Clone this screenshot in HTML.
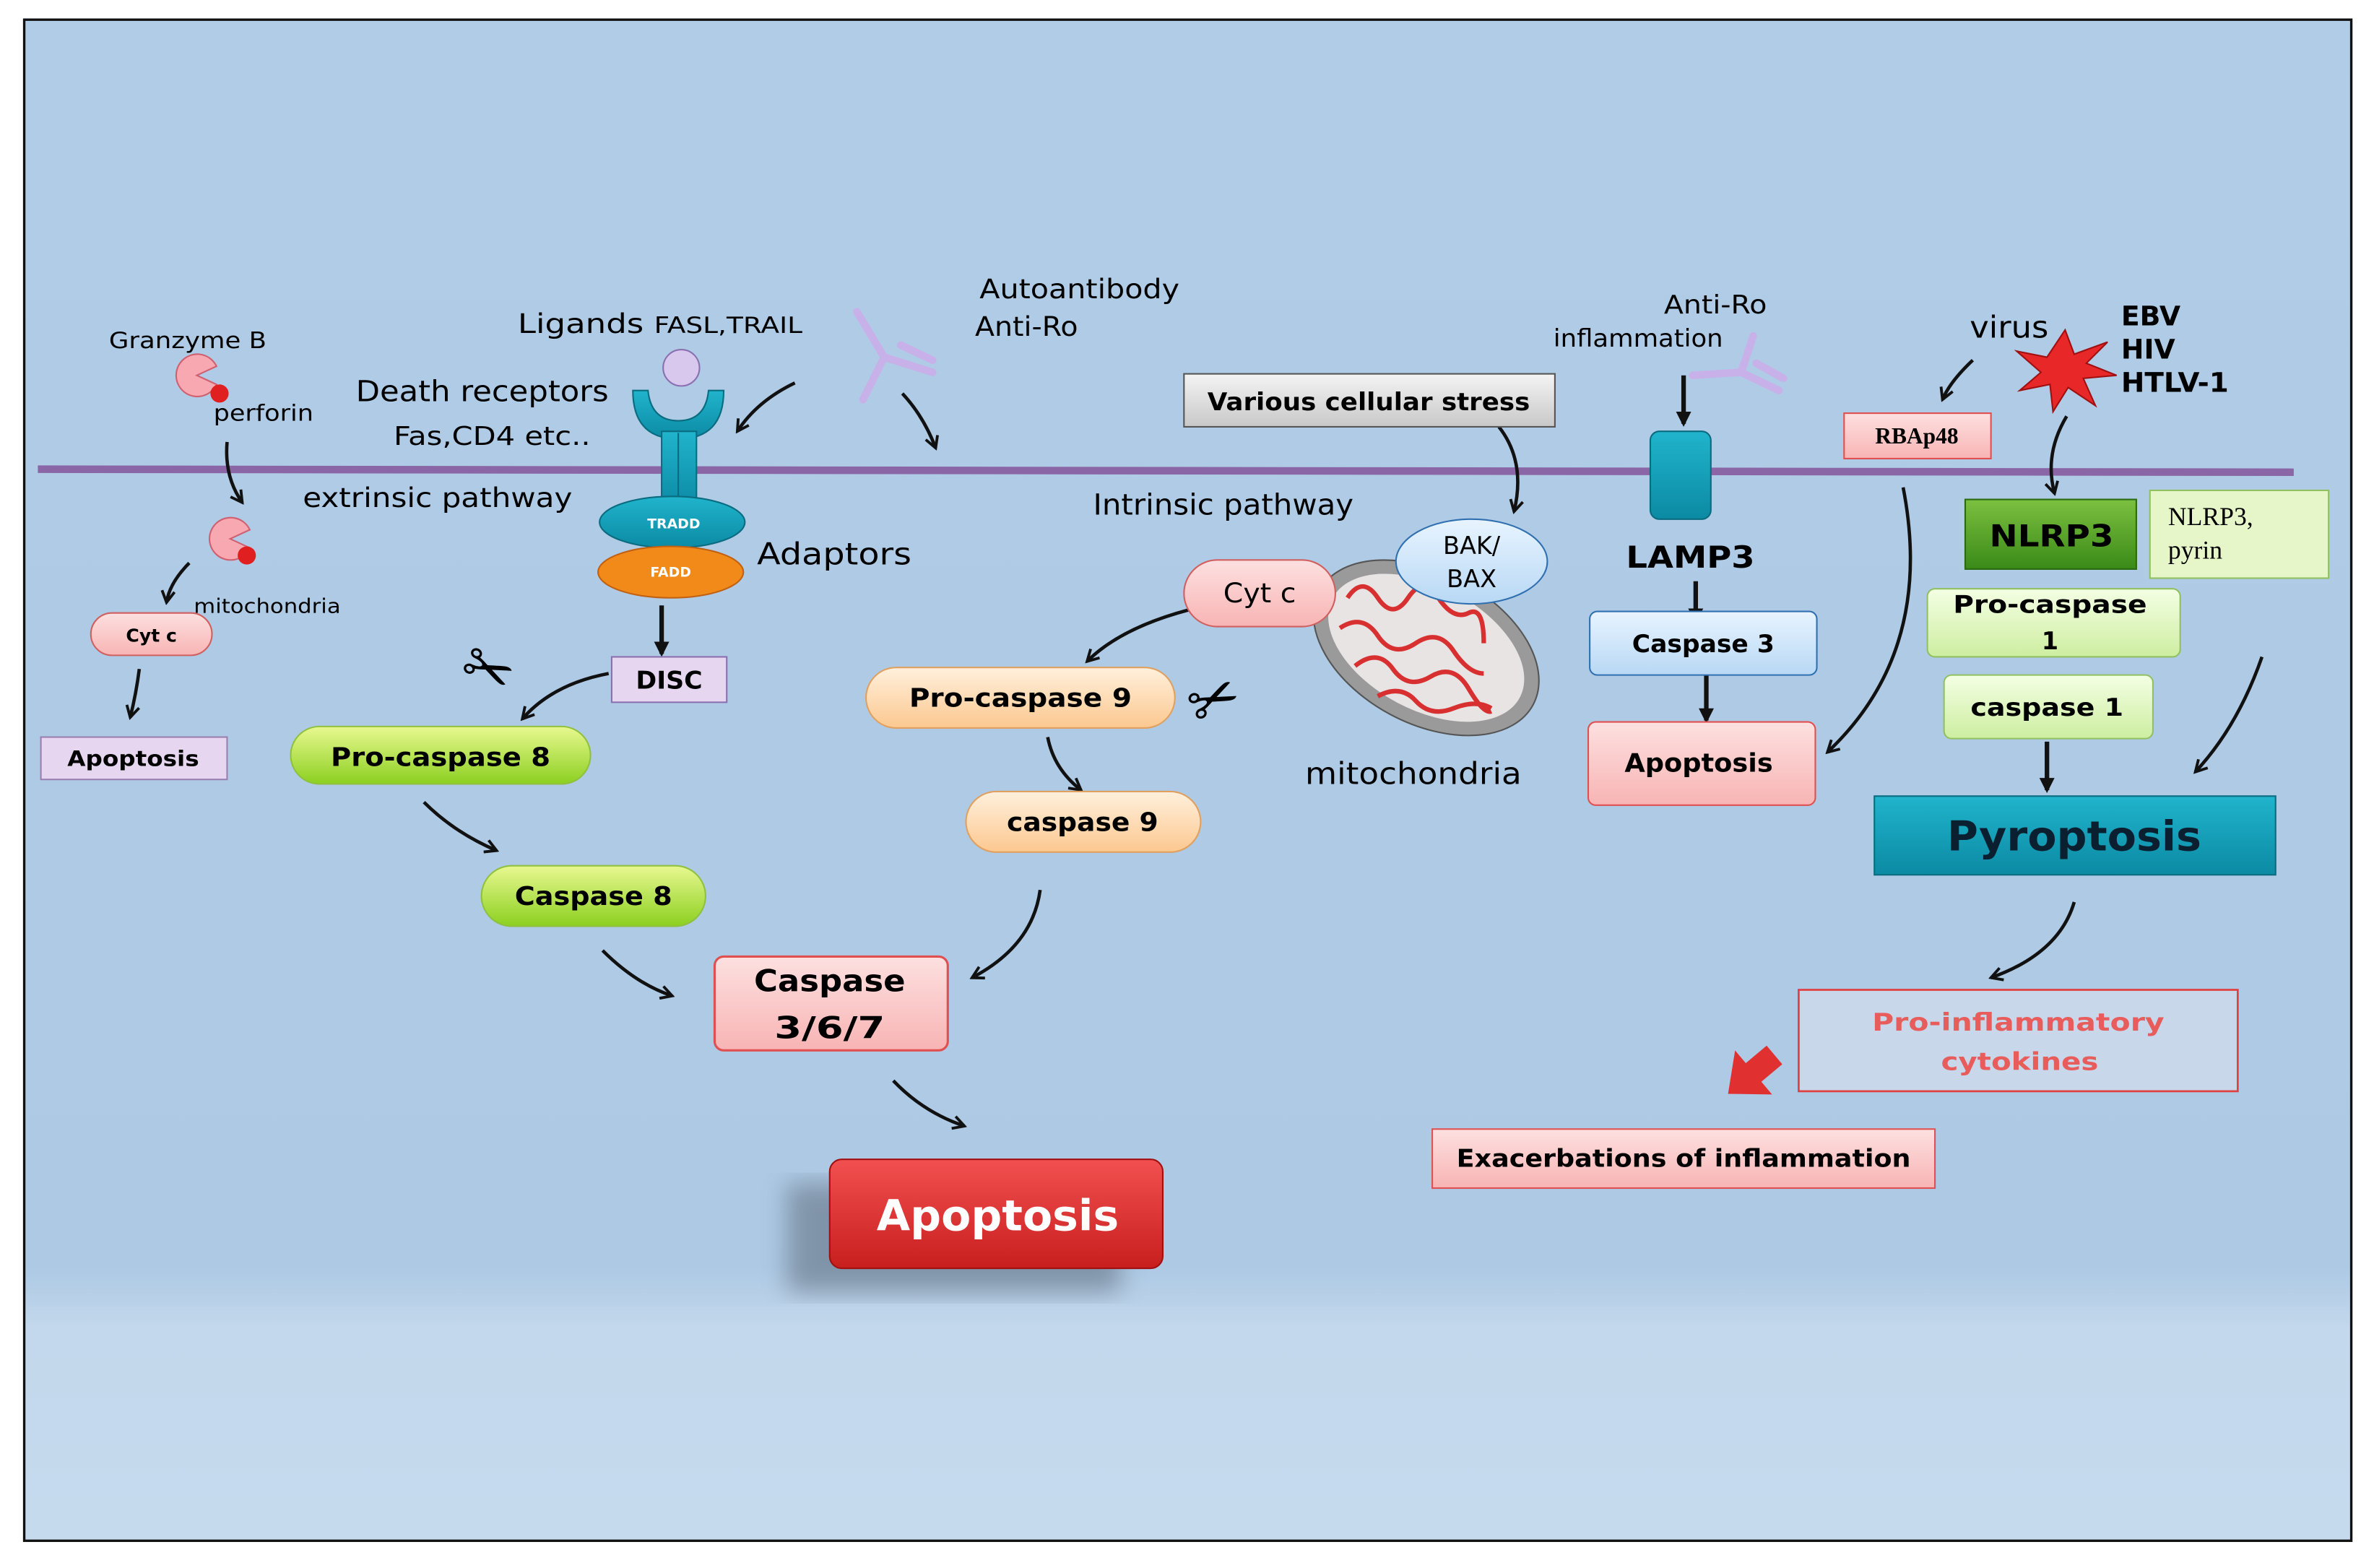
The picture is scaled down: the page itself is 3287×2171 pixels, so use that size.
<!DOCTYPE html>
<html><head><meta charset="utf-8"><style>
html,body{margin:0;padding:0;background:#fff;}
svg{display:block;}
text{font-family:"DejaVu Sans","Liberation Sans",sans-serif;}
.b{font-weight:bold;}
.s{font-family:"Liberation Serif",serif;}
</style></head><body>
<svg width="3287" height="2171" viewBox="0 0 1568 1036" preserveAspectRatio="none" xmlns="http://www.w3.org/2000/svg">
<defs>
<marker id="ah" viewBox="0 0 12 12" refX="10" refY="6" markerWidth="10" markerHeight="10" orient="auto" markerUnits="userSpaceOnUse">
<path d="M1,1 L10,6 L1,11" fill="none" stroke="#111" stroke-width="2.2"/></marker>
<marker id="ahf" viewBox="0 0 10 10" refX="8" refY="5" markerWidth="10" markerHeight="10" orient="auto" markerUnits="userSpaceOnUse">
<path d="M0,0 L10,5 L0,10 z" fill="#111"/></marker>
<linearGradient id="bg" x1="0" y1="0" x2="0" y2="1"><stop offset="0" stop-color="#b1cce6"/><stop offset="0.82" stop-color="#adc9e4"/><stop offset="0.86" stop-color="#c3d8ec"/><stop offset="1" stop-color="#c6daee"/></linearGradient>
<linearGradient id="gr" x1="0" y1="0" x2="0" y2="1"><stop offset="0" stop-color="#e8f890"/><stop offset="1" stop-color="#8cd020"/></linearGradient>
<linearGradient id="pk" x1="0" y1="0" x2="0" y2="1"><stop offset="0" stop-color="#fde0e0"/><stop offset="1" stop-color="#f8b4b4"/></linearGradient>
<linearGradient id="or" x1="0" y1="0" x2="0" y2="1"><stop offset="0" stop-color="#fff0dc"/><stop offset="1" stop-color="#fcc890"/></linearGradient>
<linearGradient id="rd" x1="0" y1="0" x2="0" y2="1"><stop offset="0" stop-color="#f25050"/><stop offset="1" stop-color="#c81e1e"/></linearGradient>
<linearGradient id="lb" x1="0" y1="0" x2="0" y2="1"><stop offset="0" stop-color="#e8f4ff"/><stop offset="1" stop-color="#b8d8f4"/></linearGradient>
<linearGradient id="lg" x1="0" y1="0" x2="0" y2="1"><stop offset="0" stop-color="#f4ffe4"/><stop offset="1" stop-color="#cdeea0"/></linearGradient>
<linearGradient id="dg" x1="0" y1="0" x2="0" y2="1"><stop offset="0" stop-color="#7cc040"/><stop offset="1" stop-color="#3a8a18"/></linearGradient>
<linearGradient id="tl" x1="0" y1="0" x2="0" y2="1"><stop offset="0" stop-color="#20b4cc"/><stop offset="1" stop-color="#0c8aa4"/></linearGradient>
<linearGradient id="gy" x1="0" y1="0" x2="0" y2="1"><stop offset="0" stop-color="#f4f4f4"/><stop offset="1" stop-color="#c8c8c8"/></linearGradient>
<filter id="sh"><feGaussianBlur stdDeviation="8"/></filter>
</defs>
<rect x="0" y="0" width="1568" height="1036" fill="#fff"/>
<rect x="16" y="13" width="1537" height="1005" fill="url(#bg)" stroke="#111" stroke-width="1.6"/>
<line x1="25" y1="310" x2="1515" y2="312" stroke="#8a66a6" stroke-width="5"/>

<g fill="none" stroke="#111" stroke-width="2.2" marker-end="url(#ah)">
<path d="M150,292 Q148,315 160,332"/>
<path d="M125,372 Q112,385 110,398"/>
<path d="M92,442 Q90,458 86,474"/>
<path d="M402,445 Q365,452 345,475"/>
<path d="M280,530 Q300,550 328,562"/>
<path d="M398,628 Q420,650 444,658"/>
<path d="M590,714 Q610,735 637,744"/>
<path d="M525,253 Q500,265 487,285"/>
<path d="M596,260 Q610,275 618,296"/>
<path d="M990,282 Q1008,305 1000,338"/>
<path d="M785,403 Q740,415 718,437"/>
<path d="M692,487 Q696,508 714,522"/>
<path d="M687,588 Q682,625 642,646"/>
<path d="M1303,238 Q1288,252 1283,264"/>
<path d="M1365,275 Q1350,300 1357,326"/>
<path d="M1257,322 Q1278,430 1207,497"/>
<path d="M1494,434 Q1478,480 1450,510"/>
<path d="M1370,596 Q1360,630 1315,646"/>
</g>
<g stroke="#111" stroke-width="3" marker-end="url(#ahf)">
<line x1="437" y1="400" x2="437" y2="432"/>
<line x1="1112" y1="248" x2="1112" y2="280"/>
<line x1="1120" y1="384" x2="1120" y2="410"/>
<line x1="1127" y1="446" x2="1127" y2="476"/>
<line x1="1352" y1="490" x2="1352" y2="522"/>
</g>

<!-- granzyme -->
<text x="72" y="230" font-size="15" textLength="104" lengthAdjust="spacingAndGlyphs">Granzyme B</text>
<path d="M130,248 L143,242 A14,14 0 1 0 143,254 Z" fill="#f7a8b0" stroke="#d06070" stroke-width="1"/>
<circle cx="145" cy="260" r="6" fill="#e02020"/>
<text x="141" y="278" font-size="15" textLength="66" lengthAdjust="spacingAndGlyphs">perforin</text>
<path d="M152,356 L165,350 A14,14 0 1 0 165,362 Z" fill="#f7a8b0" stroke="#d06070" stroke-width="1"/>
<circle cx="163" cy="367" r="6" fill="#e02020"/>
<text x="128" y="405" font-size="13" textLength="97" lengthAdjust="spacingAndGlyphs">mitochondria</text>
<rect x="60" y="405" width="80" height="28" rx="14" fill="url(#pk)" stroke="#d06060"/>
<text x="100" y="424" font-size="12" class="b" text-anchor="middle">Cyt c</text>
<rect x="27" y="487" width="123" height="28" fill="#e6d6f0" stroke="#9a80b0"/>
<text x="88" y="506" font-size="14" class="b" text-anchor="middle" textLength="87" lengthAdjust="spacingAndGlyphs">Apoptosis</text>

<!-- extrinsic -->
<text x="342" y="220" font-size="18" textLength="188" lengthAdjust="spacingAndGlyphs">Ligands <tspan font-size="15">FASL,TRAIL</tspan></text>
<text x="235" y="265" font-size="19" textLength="167" lengthAdjust="spacingAndGlyphs">Death receptors</text>
<text x="260" y="294" font-size="17" textLength="130" lengthAdjust="spacingAndGlyphs">Fas,CD4 etc..</text>
<text x="200" y="335" font-size="18" textLength="178" lengthAdjust="spacingAndGlyphs">extrinsic pathway</text>
<circle cx="450" cy="243" r="12" fill="#d8c8ee" stroke="#8a70b0"/>
<path d="M418,258 Q418,290 448,290 Q478,290 478,258 L468,258 Q466,278 448,278 Q430,278 428,258 Z" fill="url(#tl)" stroke="#0a6c80"/>
<rect x="437" y="285" width="23" height="50" fill="url(#tl)" stroke="#0a6c80"/>
<line x1="448" y1="286" x2="448" y2="334" stroke="#0a6c80"/>
<ellipse cx="444" cy="345" rx="48" ry="17" fill="url(#tl)" stroke="#0a6c80"/>
<text x="445" y="349" font-size="9" fill="#fff" class="b" text-anchor="middle">TRADD</text>
<ellipse cx="443" cy="378" rx="48" ry="17" fill="#f28a1a" stroke="#c06010"/>
<text x="443" y="381" font-size="9" fill="#fff" class="b" text-anchor="middle">FADD</text>
<text x="500" y="373" font-size="20" textLength="102" lengthAdjust="spacingAndGlyphs">Adaptors</text>
<rect x="404" y="434" width="76" height="30" fill="#e6d6f0" stroke="#8a70b0"/>
<text x="442" y="455" font-size="16" class="b" text-anchor="middle" textLength="44" lengthAdjust="spacingAndGlyphs">DISC</text>
<text x="322" y="456" font-size="40" text-anchor="middle" transform="rotate(25 322 443)">✂</text>
<rect x="192" y="480" width="198" height="38" rx="19" fill="url(#gr)" stroke="#90c040"/>
<text x="291" y="506" font-size="17" class="b" text-anchor="middle" textLength="145" lengthAdjust="spacingAndGlyphs">Pro-caspase 8</text>
<rect x="318" y="572" width="148" height="40" rx="20" fill="url(#gr)" stroke="#90c040"/>
<text x="392" y="598" font-size="17" class="b" text-anchor="middle" textLength="104" lengthAdjust="spacingAndGlyphs">Caspase 8</text>
<rect x="472" y="632" width="154" height="62" rx="6" fill="url(#pk)" stroke="#e05050" stroke-width="1.5"/>
<text x="548" y="655" font-size="20" class="b" text-anchor="middle" textLength="100" lengthAdjust="spacingAndGlyphs">Caspase</text>
<text x="548" y="686" font-size="20" class="b" text-anchor="middle" textLength="73" lengthAdjust="spacingAndGlyphs">3/6/7</text>
<rect x="520" y="782" width="220" height="72" fill="#556070" opacity="0.5" filter="url(#sh)"/>
<rect x="548" y="766" width="220" height="72" rx="8" fill="url(#rd)" stroke="#a01010"/>
<text x="659" y="813" font-size="28" class="b" fill="#fff" text-anchor="middle" textLength="160" lengthAdjust="spacingAndGlyphs">Apoptosis</text>

<!-- antibodies -->
<g stroke="#c8b0e8" stroke-width="5" stroke-linecap="round" fill="none">
<path d="M566,206 L584,236 L570,264"/><path d="M584,236 L616,246"/><path d="M595,228 L616,238"/>
<path d="M1158,222 L1150,246 L1118,248"/><path d="M1150,246 L1175,258"/><path d="M1160,240 L1178,250"/>
</g>
<text x="647" y="197" font-size="18" textLength="132" lengthAdjust="spacingAndGlyphs">Autoantibody</text>
<text x="644" y="222" font-size="18" textLength="68" lengthAdjust="spacingAndGlyphs">Anti-Ro</text>

<!-- intrinsic -->
<rect x="782" y="247" width="245" height="35" fill="url(#gy)" stroke="#555"/>
<text x="904" y="271" font-size="16" class="b" text-anchor="middle" textLength="213" lengthAdjust="spacingAndGlyphs">Various cellular stress</text>
<text x="722" y="340" font-size="19" textLength="172" lengthAdjust="spacingAndGlyphs">Intrinsic pathway</text>
<ellipse cx="942" cy="428" rx="80" ry="50" transform="rotate(28 942 428)" fill="#9a9a9a" stroke="#555"/>
<ellipse cx="942" cy="428" rx="70" ry="41" transform="rotate(28 942 428)" fill="#e8e4e4"/>
<path d="M890,395 q10,-15 20,0 t20,0 t20,0 t20,10 t10,20 M885,415 q15,-10 25,5 t25,5 t25,5 t20,15 M895,440 q15,-12 25,2 t25,5 t25,8 t15,15 M910,460 q15,-8 25,3 t25,5 t25,0" fill="none" stroke="#d83030" stroke-width="3"/>
<ellipse cx="972" cy="371" rx="50" ry="28" fill="url(#lb)" stroke="#3070b0"/>
<text x="972" y="366" font-size="16" text-anchor="middle">BAK/</text>
<text x="972" y="388" font-size="16" text-anchor="middle">BAX</text>
<rect x="782" y="370" width="100" height="44" rx="22" fill="url(#pk)" stroke="#d06060"/>
<text x="832" y="398" font-size="18" text-anchor="middle" textLength="48" lengthAdjust="spacingAndGlyphs">Cyt c</text>
<rect x="572" y="441" width="204" height="40" rx="20" fill="url(#or)" stroke="#e0a060"/>
<text x="674" y="467" font-size="17" class="b" text-anchor="middle" textLength="147" lengthAdjust="spacingAndGlyphs">Pro-caspase 9</text>
<text x="802" y="476" font-size="40" text-anchor="middle" transform="rotate(-25 802 463)">✂</text>
<rect x="638" y="523" width="155" height="40" rx="20" fill="url(#or)" stroke="#e0a060"/>
<text x="715" y="549" font-size="17" class="b" text-anchor="middle" textLength="100" lengthAdjust="spacingAndGlyphs">caspase 9</text>
<text x="862" y="518" font-size="20" textLength="143" lengthAdjust="spacingAndGlyphs">mitochondria</text>

<!-- LAMP3 -->
<text x="1099" y="207" font-size="17" textLength="68" lengthAdjust="spacingAndGlyphs">Anti-Ro</text>
<text x="1026" y="229" font-size="16" textLength="112" lengthAdjust="spacingAndGlyphs">inflammation</text>
<rect x="1090" y="285" width="40" height="58" rx="6" fill="url(#tl)" stroke="#0a6c80"/>
<text x="1074" y="375" font-size="20" class="b" textLength="85" lengthAdjust="spacingAndGlyphs">LAMP3</text>
<rect x="1050" y="404" width="150" height="42" rx="5" fill="url(#lb)" stroke="#3070b0"/>
<text x="1125" y="431" font-size="16" class="b" text-anchor="middle" textLength="94" lengthAdjust="spacingAndGlyphs">Caspase 3</text>
<rect x="1049" y="477" width="150" height="55" rx="5" fill="url(#pk)" stroke="#e05050"/>
<text x="1122" y="510" font-size="17" class="b" text-anchor="middle" textLength="98" lengthAdjust="spacingAndGlyphs">Apoptosis</text>

<!-- pyroptosis -->
<text x="1301" y="223" font-size="20" textLength="52" lengthAdjust="spacingAndGlyphs">virus</text>
<rect x="1218" y="273" width="97" height="30" fill="url(#pk)" stroke="#e05050"/>
<text x="1266" y="293" font-size="15" class="b s" text-anchor="middle">RBAp48</text>
<text x="1401" y="215" font-size="18" class="b">EBV</text>
<text x="1401" y="237" font-size="18" class="b">HIV</text>
<text x="1401" y="259" font-size="18" class="b" textLength="71" lengthAdjust="spacingAndGlyphs">HTLV-1</text>
<path d="M1364,218 L1370,234 L1392,226 L1378,240 L1398,248 L1376,250 L1384,268 L1366,256 L1356,272 L1354,254 L1334,258 L1348,246 L1332,232 L1352,236 Z" fill="#e82828" stroke="#a01010"/>
<rect x="1298" y="330" width="113" height="46" fill="url(#dg)" stroke="#2a6a10"/>
<text x="1355" y="361" font-size="20" class="b" text-anchor="middle" textLength="82" lengthAdjust="spacingAndGlyphs">NLRP3</text>
<rect x="1420" y="324" width="118" height="58" fill="#e6f6c8" stroke="#90c060"/>
<text x="1432" y="347" font-size="17" class="s">NLRP3,</text>
<text x="1432" y="369" font-size="17" class="s">pyrin</text>
<rect x="1273" y="389" width="167" height="45" rx="5" fill="url(#lg)" stroke="#90c060"/>
<text x="1354" y="405" font-size="16" class="b" text-anchor="middle" textLength="128" lengthAdjust="spacingAndGlyphs">Pro-caspase</text>
<text x="1354" y="429" font-size="16" class="b" text-anchor="middle">1</text>
<rect x="1284" y="446" width="138" height="42" rx="5" fill="url(#lg)" stroke="#90c060"/>
<text x="1352" y="473" font-size="16" class="b" text-anchor="middle" textLength="101" lengthAdjust="spacingAndGlyphs">caspase 1</text>
<rect x="1238" y="526" width="265" height="52" fill="url(#tl)" stroke="#0a6c80"/>
<text x="1370" y="562" font-size="27" class="b" fill="#0a2030" text-anchor="middle" textLength="168" lengthAdjust="spacingAndGlyphs">Pyroptosis</text>
<rect x="1188" y="654" width="290" height="67" fill="#c8d8ea" stroke="#e04040" stroke-width="1.3"/>
<text x="1333" y="681" font-size="16" class="b" fill="#e85c5c" text-anchor="middle" textLength="193" lengthAdjust="spacingAndGlyphs">Pro-inflammatory</text>
<text x="1334" y="707" font-size="16" class="b" fill="#e85c5c" text-anchor="middle" textLength="104" lengthAdjust="spacingAndGlyphs">cytokines</text>
<path d="M0,-8 L18,-8 L18,-19 L40,0 L18,19 L18,8 L0,8 Z" fill="#e03030" transform="translate(1172,697) rotate(140)"/>
<rect x="946" y="746" width="332" height="39" fill="url(#pk)" stroke="#e05050"/>
<text x="1112" y="771" font-size="16" class="b" text-anchor="middle" textLength="300" lengthAdjust="spacingAndGlyphs">Exacerbations of inflammation</text>
</svg>
</body></html>
